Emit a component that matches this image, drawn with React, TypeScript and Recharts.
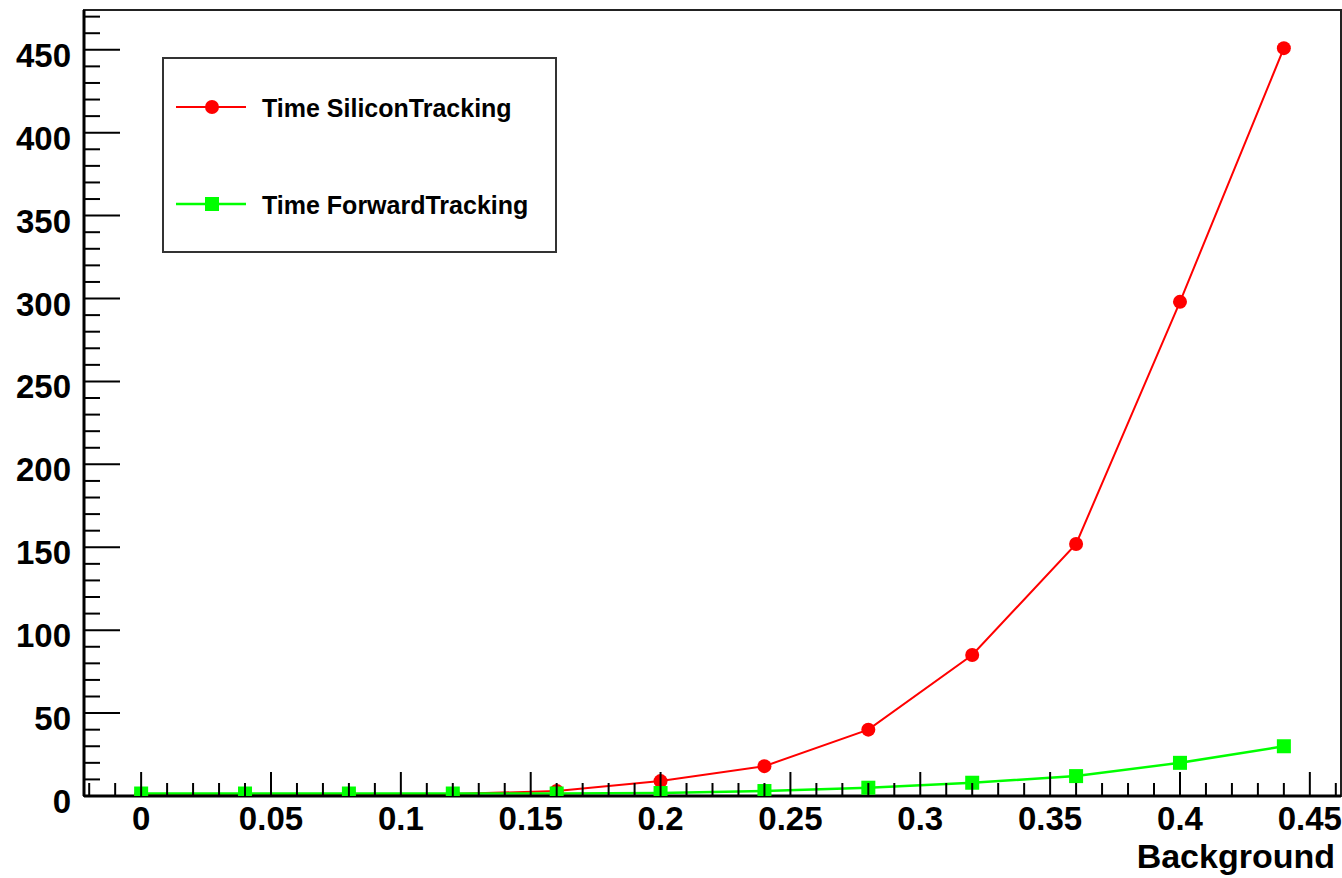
import React from 'react';
import { LineChart, Line, XAxis, YAxis, ReferenceArea } from 'recharts';

// Background level (x) and processing times of the two tracking stages
const background = [0, 0.04, 0.08, 0.12, 0.16, 0.2, 0.24, 0.28, 0.32, 0.36, 0.4, 0.44];
const siliconTime = [0.5, 0.5, 0.8, 1.2, 3, 9, 18, 40, 85, 152, 298, 451];
const forwardTime = [1.5, 1.5, 1.5, 1.5, 1.5, 1.8, 3, 5, 8, 12, 20, 30];

const xMajorTicks = [0, 0.05, 0.1, 0.15, 0.2, 0.25, 0.3, 0.35, 0.4, 0.45];
const yMajorTicks = [0, 50, 100, 150, 200, 250, 300, 350, 400, 450];

const X_DOMAIN: [number, number] = [-0.022, 0.462];
const Y_DOMAIN: [number, number] = [0, 474];

const seriesNames = ['Time SiliconTracking', 'Time ForwardTracking'];
const RED = '#ff0000';
const GREEN = '#00ff00';
const FONT = '"Liberation Sans", Arial, Helvetica, sans-serif';

const data = background.map((x, i) => ({
  x,
  silicon: siliconTime[i],
  forward: forwardTime[i],
}));

// minor ticks every 0.01 on x and every 10 on y
const xAllTicks: number[] = [];
for (let i = -2; i <= 46; i++) xAllTicks.push(i / 100);
const yAllTicks: number[] = [];
for (let i = 0; i <= 47; i++) yAllTicks.push(i * 10);

const isXMajor = (v: number) => xMajorTicks.some((m) => Math.abs(m - v) < 1e-6);
const isYMajor = (v: number) => yMajorTicks.some((m) => Math.abs(m - v) < 1e-6);

const fmtX = (v: number) => String(Number(v.toFixed(2)));

const XTick = (props: any) => {
  const { x, y, payload } = props;
  const v = payload.value as number;
  const major = isXMajor(v);
  return (
    <g>
      <line x1={x} x2={x} y1={y} y2={y - (major ? 24 : 13)} stroke="#000" strokeWidth={2} />
      {major && (
        <text x={x} y={y + 34} textAnchor="middle" fontFamily={FONT} fontWeight="bold" fontSize={33} fill="#000">
          {fmtX(v)}
        </text>
      )}
    </g>
  );
};

const YTick = (props: any) => {
  const { x, y, payload } = props;
  const v = payload.value as number;
  const major = isYMajor(v);
  return (
    <g>
      <line x1={x} x2={x + (major ? 36 : 16)} y1={y} y2={y} stroke="#000" strokeWidth={2} />
      {major && (
        <text x={x - 13} y={y + 17} textAnchor="end" fontFamily={FONT} fontWeight="bold" fontSize={33} fill="#000">
          {v}
        </text>
      )}
    </g>
  );
};

const CircleDot = (props: any) => {
  const { cx, cy, index } = props;
  if (cx == null || cy == null) return <g key={`c-${index}`} />;
  return <circle key={`c-${index}`} cx={cx} cy={cy} r={7} fill={RED} />;
};

const SquareDot = (props: any) => {
  const { cx, cy, index } = props;
  if (cx == null || cy == null) return <g key={`s-${index}`} />;
  return <rect key={`s-${index}`} x={cx - 7} y={cy - 7} width={14} height={14} fill={GREEN} />;
};

const AxisTitle = (props: any) => {
  const vb = props.viewBox || { x: 84, y: 796, width: 1257, height: 82 };
  return (
    <text
      x={vb.x + vb.width - 6}
      y={vb.y + 72}
      textAnchor="end"
      fontFamily={FONT}
      fontWeight="bold"
      fontSize={34}
      fill="#000"
    >
      Background
    </text>
  );
};

const LegendBox = () => (
  <div
    style={{
      position: 'absolute',
      left: 162,
      top: 57,
      width: 395,
      height: 196,
      boxSizing: 'border-box',
      border: '2px solid #333',
      background: '#fff',
    }}
  >
    <svg width={391} height={192} style={{ display: 'block' }}>
      <g>
        <line x1={12} x2={82} y1={48} y2={48} stroke={RED} strokeWidth={2} />
        <circle cx={48} cy={48} r={7} fill={RED} />
        <text x={98} y={49} dominantBaseline="central" fontFamily={FONT} fontWeight="bold" fontSize={25} fill="#000">
          {seriesNames[0]}
        </text>
      </g>
      <g>
        <line x1={12} x2={82} y1={145} y2={145} stroke={GREEN} strokeWidth={2.5} />
        <rect x={41} y={138} width={14} height={14} fill={GREEN} />
        <text x={98} y={146} dominantBaseline="central" fontFamily={FONT} fontWeight="bold" fontSize={25} fill="#000">
          {seriesNames[1]}
        </text>
      </g>
    </svg>
  </div>
);

export default function App() {
  return (
    <div style={{ position: 'absolute', left: 0, top: 0, width: 1342, height: 878, background: '#fff' }}>
      <LineChart
        width={1342}
        height={878}
        data={data}
        margin={{ top: 10, right: 1, bottom: 0, left: 0 }}
        style={{ fontFamily: FONT }}
      >
        <XAxis
          dataKey="x"
          type="number"
          domain={X_DOMAIN}
          allowDataOverflow
          ticks={xAllTicks}
          interval={0}
          tickSize={0}
          tickMargin={0}
          tickLine={false}
          tick={<XTick />}
          axisLine={{ stroke: '#000', strokeWidth: 3 }}
          height={82}
          label={{ content: <AxisTitle /> }}
        />
        <YAxis
          type="number"
          domain={Y_DOMAIN}
          allowDataOverflow
          ticks={yAllTicks}
          interval={0}
          tickSize={0}
          tickMargin={0}
          tickLine={false}
          tick={<YTick />}
          axisLine={{ stroke: '#000', strokeWidth: 3 }}
          width={84}
        />
        <ReferenceArea
          x1={X_DOMAIN[0]}
          x2={X_DOMAIN[1]}
          y1={Y_DOMAIN[0]}
          y2={Y_DOMAIN[1]}
          fill="none"
          stroke="#222"
          strokeWidth={2}
          ifOverflow="visible"
        />
        <Line
          dataKey="silicon"
          name={seriesNames[0]}
          stroke={RED}
          strokeWidth={2}
          dot={<CircleDot />}
          activeDot={false}
          isAnimationActive={false}
          type="linear"
        />
        <Line
          dataKey="forward"
          name={seriesNames[1]}
          stroke={GREEN}
          strokeWidth={2.5}
          dot={<SquareDot />}
          activeDot={false}
          isAnimationActive={false}
          type="linear"
        />
      </LineChart>
      <LegendBox />
    </div>
  );
}
